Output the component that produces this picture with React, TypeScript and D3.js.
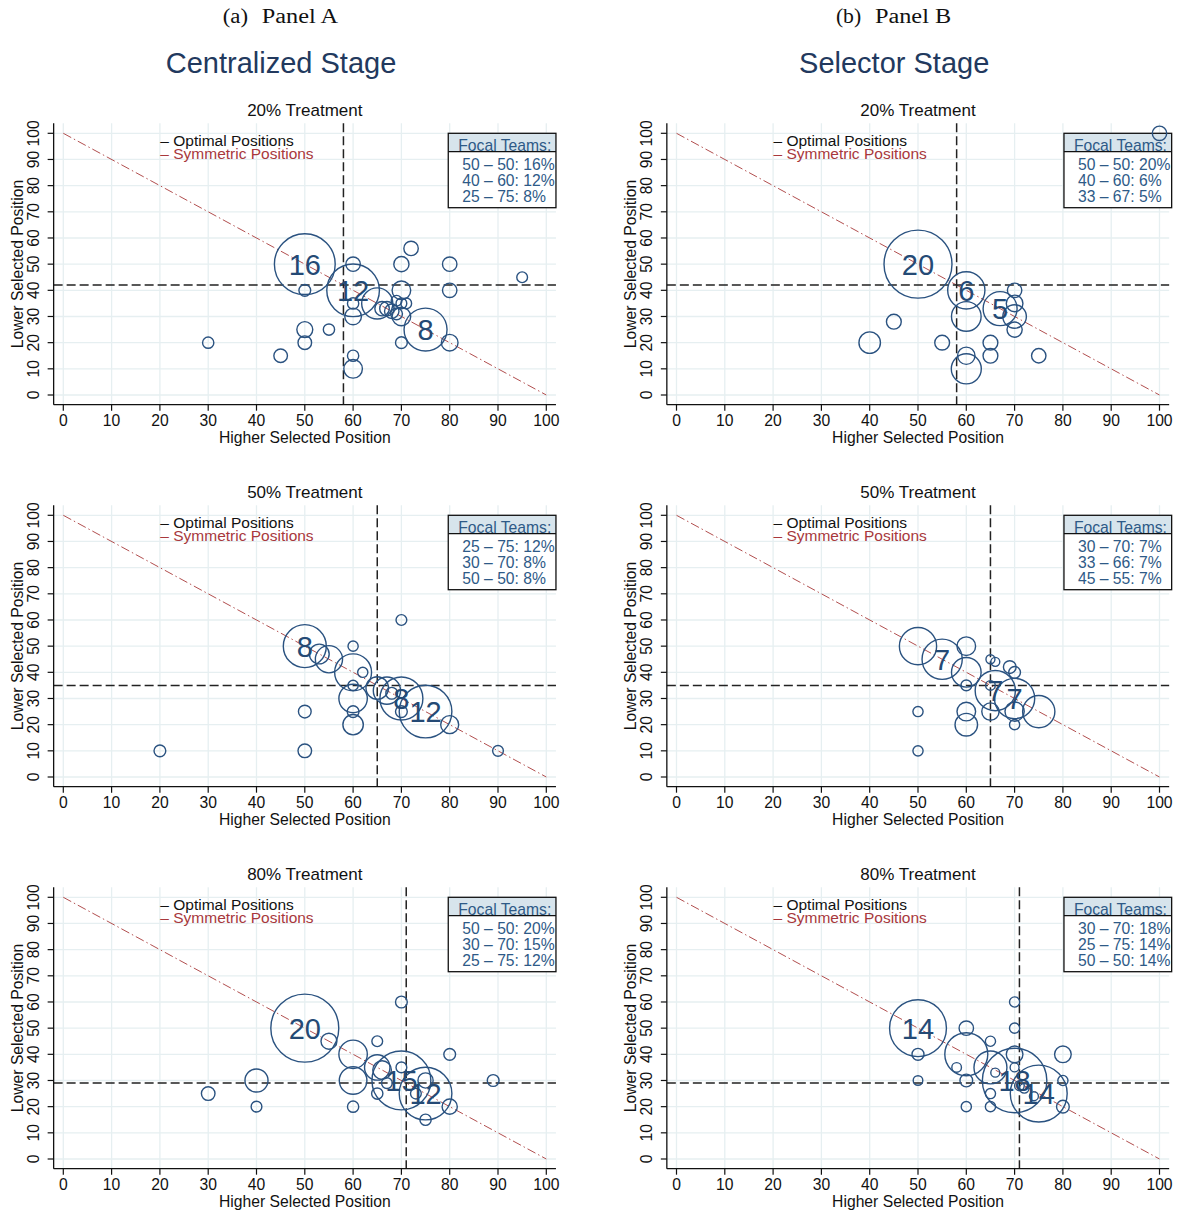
import React from 'react';
import * as d3 from 'd3';

// axis ticks
const xTicks = [0, 10, 20, 30, 40, 50, 60, 70, 80, 90, 100];
const yTicks = [0, 10, 20, 30, 40, 50, 60, 70, 80, 90, 100];

const stageTitles = ['Centralized Stage', 'Selector Stage'];
const captionTags = ['(a)', '(b)'];
const captionNames = ['Panel A', 'Panel B'];
const treatmentTitles = ['20% Treatment', '50% Treatment', '80% Treatment'];

// optimal positions per treatment (higher, lower)
const optimalHigher = [58, 65, 71];
const optimalLower = [42, 35, 29];

// bubbles: [higher position, lower position, share of teams in %]
const centralized20: [number, number, number][] = [
  [30, 20, 0.55], [45, 15, 0.8], [50, 50, 16], [50, 40, 0.6], [50, 25, 1.1], [50, 20, 0.8],
  [55, 25, 0.55], [60, 50, 0.9], [60, 40, 12], [60, 35, 0.55], [60, 30, 1.2], [60, 15, 0.55],
  [60, 10, 1.5], [65, 35, 4.2], [66, 33, 0.9], [67, 33, 0.9], [68, 32, 0.9], [69, 36, 0.5],
  [70, 35, 0.5], [71, 35, 0.5], [69, 31, 0.6], [70, 50, 1.0], [70, 40, 1.5], [70, 30, 1.5],
  [70, 20, 0.6], [72, 56, 0.9], [75, 25, 8], [80, 50, 0.9], [80, 40, 0.9], [80, 20, 1.2],
  [95, 45, 0.5],
];
const centralized50: [number, number, number][] = [
  [20, 10, 0.6], [50, 50, 8], [50, 25, 0.7], [50, 10, 0.8], [53, 47, 1.7], [55, 45, 3.2],
  [60, 50, 0.45], [60, 40, 5.9], [62, 40, 0.45], [60, 35, 0.45], [60, 30, 3.5], [60, 25, 0.6],
  [60, 20, 1.8], [65, 34, 2.2], [67, 33, 3.2], [68, 32, 0.6], [70, 30, 8], [70, 25, 0.6],
  [70, 60, 0.5], [75, 25, 12], [80, 20, 1.4], [90, 10, 0.5],
];
const centralized80: [number, number, number][] = [
  [30, 25, 0.8], [40, 30, 2.3], [40, 20, 0.5], [50, 50, 20], [55, 45, 1.1], [60, 40, 3.5],
  [60, 30, 3.3], [60, 20, 0.55], [65, 45, 0.5], [65, 35, 2.8], [66, 34, 1.5], [67, 29, 0.5],
  [65, 25, 0.55], [70, 60, 0.6], [70, 35, 0.5], [70, 30, 15], [75, 30, 1.0], [73, 25, 0.5],
  [75, 25, 12], [75, 15, 0.55], [80, 40, 0.6], [80, 20, 1.0], [89, 30, 0.6],
];
const selector20: [number, number, number][] = [
  [40, 20, 2.0], [45, 28, 0.95], [50, 50, 20], [55, 20, 0.95], [60, 40, 6], [60, 30, 3.8],
  [60, 15, 1.3], [60, 10, 3.9], [65, 20, 0.95], [65, 15, 0.95], [67, 33, 5], [70, 40, 0.9],
  [70, 35, 1.2], [70, 30, 2.4], [70, 25, 1.0], [75, 15, 0.9], [100, 100, 0.9],
];
const selector50: [number, number, number][] = [
  [50, 50, 6], [50, 25, 0.45], [50, 10, 0.45], [55, 45, 7], [60, 50, 1.5], [60, 40, 3.8],
  [60, 35, 0.5], [60, 25, 1.5], [60, 20, 2.2], [65, 45, 0.35], [66, 44, 0.35], [69, 42, 0.7],
  [70, 40, 0.6], [65, 35, 0.4], [66, 33, 7], [70, 30, 7], [75, 25, 4.5], [70, 25, 1.6],
  [65, 25, 1.3], [70, 20, 0.45],
];
const selector80: [number, number, number][] = [
  [50, 50, 14], [50, 40, 0.62], [50, 30, 0.4], [58, 35, 0.4], [60, 50, 0.9], [60, 40, 8],
  [60, 30, 0.7], [60, 20, 0.45], [65, 45, 0.45], [65, 35, 4.7], [66, 33, 0.35], [65, 25, 0.45],
  [65, 20, 0.45], [70, 60, 0.45], [70, 50, 0.45], [70, 40, 1.2], [70, 35, 0.35], [70, 30, 18],
  [71, 28, 0.4], [72, 27, 0.4], [74, 24, 0.35], [75, 25, 14], [80, 40, 1.2], [80, 30, 0.45],
  [80, 20, 0.7],
];

// numbers written on the focal bubbles
const centralizedLabels20: [number, number, string][] = [[50, 50, '16'], [60, 40, '12'], [75, 25, '8']];
const centralizedLabels50: [number, number, string][] = [[50, 50, '8'], [70, 30, '8'], [75, 25, '12']];
const centralizedLabels80: [number, number, string][] = [[50, 50, '20'], [70, 30, '15'], [75, 25, '12']];
const selectorLabels20: [number, number, string][] = [[50, 50, '20'], [60, 40, '6'], [67, 33, '5']];
const selectorLabels50: [number, number, string][] = [[55, 45, '7'], [66, 33, '7'], [70, 30, '7']];
const selectorLabels80: [number, number, string][] = [[50, 50, '14'], [70, 30, '18'], [75, 25, '14']];

// focal team boxes
const focalCentralized20 = ['50 – 50: 16%', '40 – 60: 12%', '25 – 75: 8%'];
const focalCentralized50 = ['25 – 75: 12%', '30 – 70: 8%', '50 – 50: 8%'];
const focalCentralized80 = ['50 – 50: 20%', '30 – 70: 15%', '25 – 75: 12%'];
const focalSelector20 = ['50 – 50: 20%', '40 – 60: 6%', '33 – 67: 5%'];
const focalSelector50 = ['30 – 70: 7%', '33 – 66: 7%', '45 – 55: 7%'];
const focalSelector80 = ['30 – 70: 18%', '25 – 75: 14%', '50 – 50: 14%'];

const panels = [
  { col: 0, row: 0, bubbles: centralized20, labels: centralizedLabels20, focal: focalCentralized20 },
  { col: 0, row: 1, bubbles: centralized50, labels: centralizedLabels50, focal: focalCentralized50 },
  { col: 0, row: 2, bubbles: centralized80, labels: centralizedLabels80, focal: focalCentralized80 },
  { col: 1, row: 0, bubbles: selector20, labels: selectorLabels20, focal: focalSelector20 },
  { col: 1, row: 1, bubbles: selector50, labels: selectorLabels50, focal: focalSelector50 },
  { col: 1, row: 2, bubbles: selector80, labels: selectorLabels80, focal: focalSelector80 },
];

const FONT = 'Liberation Sans, Arial, Helvetica, sans-serif';
const SERIF = 'Liberation Serif, Times New Roman, serif';
const BLUE = '#2a5280';
const GRID = '#e6eff1';

const rScale = d3.scaleSqrt().domain([0, 100]).range([0, 76]);

interface PanelProps {
  col: number;
  row: number;
  bubbles: [number, number, number][];
  labels: [number, number, string][];
  focal: string[];
}

const Panel: React.FC<PanelProps> = ({ col, row, bubbles, labels, focal }) => {
  const x0 = col === 0 ? 63.3 : 676.5;
  const yb = 395 + row * 382;
  const x = d3.scaleLinear().domain([0, 100]).range([x0, x0 + 483]);
  const y = d3.scaleLinear().domain([0, 100]).range([yb, yb - 261.7]);
  const left = x(-2);
  const right = x(102);
  const top = y(103.8);
  const bottom = y(-3.7);
  const boxRight = right + (col === 1 ? 2.5 : 0);
  const boxLeft = boxRight - 107.7;
  const boxTop = y(100);
  const clipId = `focal-clip-${col}-${row}`;

  return (
    <g>
      {/* grid */}
      {xTicks.map(t => (
        <line key={`gx${t}`} x1={x(t)} x2={x(t)} y1={top} y2={bottom} stroke={GRID} strokeWidth={1.3} />
      ))}
      {yTicks.map(t => (
        <line key={`gy${t}`} x1={left} x2={right} y1={y(t)} y2={y(t)} stroke={GRID} strokeWidth={1.3} />
      ))}

      <text x={(left + right) / 2} y={top - 7} textAnchor="middle" fontFamily={FONT} fontSize={17} fill="#111">
        {treatmentTitles[row]}
      </text>

      {/* symmetric positions */}
      <line x1={x(0)} y1={y(100)} x2={x(100)} y2={y(0)} stroke="#b24f4f" strokeWidth={1} strokeDasharray="9,3,1.5,3" />

      {/* optimal positions */}
      <line x1={x(optimalHigher[row])} x2={x(optimalHigher[row])} y1={top} y2={bottom} stroke="#222" strokeWidth={1.5} strokeDasharray="9,4" />
      <line x1={left} x2={right} y1={y(optimalLower[row])} y2={y(optimalLower[row])} stroke="#222" strokeWidth={1.5} strokeDasharray="9,4" />

      {/* legend */}
      <text x={x0 + 97} y={boxTop + 13} fontFamily={FONT} fontSize={15.5} fill="#111">– Optimal Positions</text>
      <text x={x0 + 97} y={boxTop + 26} fontFamily={FONT} fontSize={15.5} fill="#a8383c">– Symmetric Positions</text>

      {/* focal teams box */}
      <defs>
        <clipPath id={clipId}>
          <rect x={boxLeft} y={boxTop} width={boxRight - boxLeft} height={74.4} />
        </clipPath>
      </defs>
      <rect x={boxLeft} y={boxTop} width={boxRight - boxLeft} height={74.4} fill="#fff" />
      <rect x={boxLeft} y={boxTop} width={boxRight - boxLeft} height={18.4} fill="#d7e4ec" />
      <g clipPath={`url(#${clipId})`}>
        <text x={boxLeft + 10} y={boxTop + 18} fontFamily={FONT} fontSize={15.7} fill="#2e5a87">Focal Teams:</text>
        {focal.map((s, i) => (
          <text key={s} x={boxLeft + 14} y={boxTop + 37 + i * 15.6} fontFamily={FONT} fontSize={15.7} fill="#2e5a87">{s}</text>
        ))}
      </g>
      <rect x={boxLeft} y={boxTop} width={boxRight - boxLeft} height={74.4} fill="none" stroke="#111" strokeWidth={1.3} />
      <line x1={boxLeft} x2={boxRight} y1={boxTop + 18.4} y2={boxTop + 18.4} stroke="#111" strokeWidth={1.3} />

      {/* bubbles */}
      {bubbles.map((d, i) => (
        <circle key={i} cx={x(d[0])} cy={y(d[1])} r={rScale(d[2])} fill="none" stroke={BLUE} strokeWidth={1.4} />
      ))}
      {labels.map((d, i) => (
        <text key={`l${i}`} x={x(d[0])} y={y(d[1])} dy="0.36em" textAnchor="middle" fontFamily={FONT} fontSize={29} fill="#244a75">
          {d[2]}
        </text>
      ))}

      {/* axes */}
      <line x1={left} x2={left} y1={top} y2={bottom} stroke="#111" strokeWidth={1.3} />
      <line x1={left} x2={right} y1={bottom} y2={bottom} stroke="#111" strokeWidth={1.3} />
      {yTicks.map(t => (
        <g key={`ty${t}`}>
          <line x1={left - 6} x2={left} y1={y(t)} y2={y(t)} stroke="#111" strokeWidth={1.2} />
          <text transform={`translate(${left - 20.4},${y(t)}) rotate(-90)`} dy="0.36em" textAnchor="middle" fontFamily={FONT} fontSize={15.7} fill="#111">
            {t}
          </text>
        </g>
      ))}
      {xTicks.map(t => (
        <g key={`tx${t}`}>
          <line x1={x(t)} x2={x(t)} y1={bottom} y2={bottom + 6} stroke="#111" strokeWidth={1.2} />
          <text x={x(t)} y={bottom + 21.8} textAnchor="middle" fontFamily={FONT} fontSize={15.7} fill="#111">{t}</text>
        </g>
      ))}
      <text x={(left + right) / 2} y={bottom + 38.5} textAnchor="middle" fontFamily={FONT} fontSize={15.7} fill="#111">
        Higher Selected Position
      </text>
      <text transform={`translate(${left - 36},${(top + bottom) / 2}) rotate(-90)`} dy="0.36em" textAnchor="middle" fontFamily={FONT} fontSize={15.7} fill="#111">
        Lower Selected Position
      </text>
    </g>
  );
};

export default function App() {
  return (
    <div style={{ position: 'absolute', left: 0, top: 0 }}>
      <svg width={1181} height={1214} style={{ display: 'block', background: '#fff' }}>
        {[0, 1].map(c => {
          const shift = c === 0 ? 0 : 613.2;
          return (
            <g key={c}>
              <text x={222.7 + shift} y={22.5} fontFamily={SERIF} fontSize={20} textLength={25.3} lengthAdjust="spacingAndGlyphs" fill="#111">
                {captionTags[c]}
              </text>
              <text x={261.7 + shift} y={22.5} fontFamily={SERIF} fontSize={20} textLength={76.3} lengthAdjust="spacingAndGlyphs" fill="#111">
                {captionNames[c]}
              </text>
              <text x={281 + shift} y={72.5} textAnchor="middle" fontFamily={FONT} fontSize={29} fill="#22395e">
                {stageTitles[c]}
              </text>
            </g>
          );
        })}
        {panels.map(p => (
          <Panel key={`${p.col}-${p.row}`} {...p} />
        ))}
      </svg>
    </div>
  );
}
